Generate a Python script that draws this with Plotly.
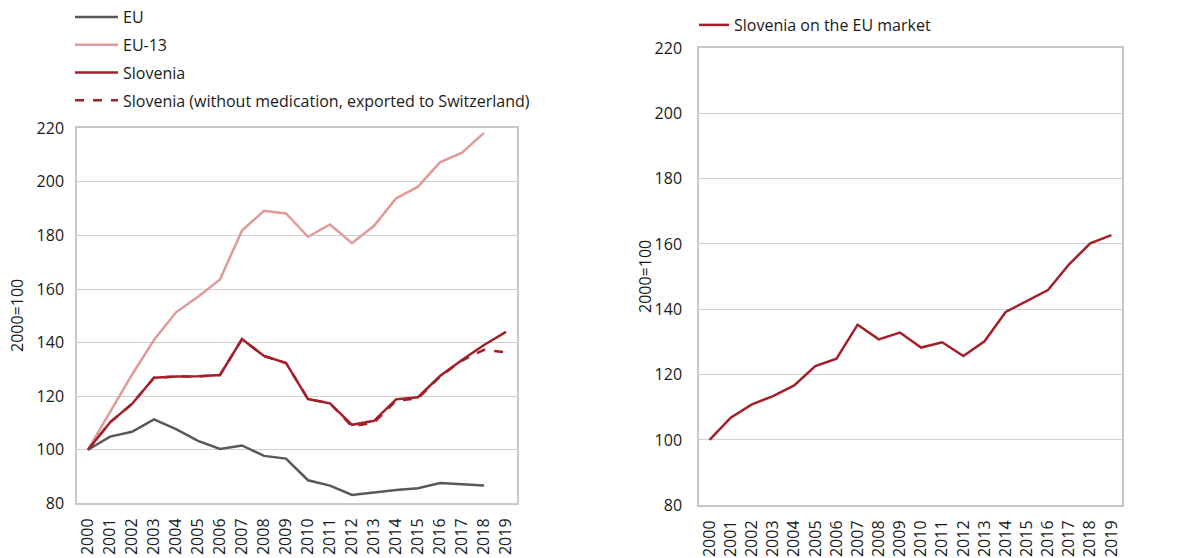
import plotly.graph_objects as go

years = [str(y) for y in range(2000, 2020)]

eu = [100, 104.9, 106.7, 111.3, 107.7, 103.3, 100.3, 101.6, 97.7, 96.7,
      88.6, 86.6, 83.1, 84.1, 85.0, 85.6, 87.6, 87.1, 86.6, None]
eu13 = [100, 114.1, 128.0, 141.0, 151.3, 157.1, 163.6, 181.8, 189.2, 188.2,
        179.5, 184.1, 177.1, 183.6, 193.8, 198.2, 207.3, 210.9, 218.3, None]
slovenia = [100, 110.2, 117.1, 126.9, 127.3, 127.4, 127.9, 141.3, 135.0, 132.4,
            118.9, 117.3, 109.3, 110.8, 118.8, 119.6, 127.5, 133.5, 139.1, 144.0]
slovenia_wo = [100, 110.2, 117.1, 126.9, 127.3, 127.4, 127.9, 141.3, 135.0, 132.4,
               118.9, 117.3, 108.7, 110.1, 118.3, 119.2, 127.3, 133.3, 137.3, 136.4]
slovenia_eu_market = [100, 106.8, 110.9, 113.4, 116.7, 122.6, 124.9, 135.3, 130.8, 132.9,
                      128.3, 129.9, 125.7, 130.2, 139.2, 142.5, 145.9, 153.8, 160.2, 162.7]

C_EU = "#595959"
C_EU13 = "#e09a9a"
C_SLO = "#a3202a"
FONT = "Open Sans"
FS = 16
TXT = "#1a1a1a"
W, H = 1179, 558


def px(x):
    return x / W


def py(y):
    return 1 - y / H


fig = go.Figure()
fig.add_trace(go.Scatter(x=years, y=eu, name="EU", mode="lines",
                         line=dict(color=C_EU, width=2.5), legendgroup="a", legendrank=1,
                         xaxis="x", yaxis="y", legend="legend"))
fig.add_trace(go.Scatter(x=years, y=eu13, name="EU-13", mode="lines",
                         line=dict(color=C_EU13, width=2.5), legendgroup="b", legendrank=2,
                         xaxis="x", yaxis="y", legend="legend"))
fig.add_trace(go.Scatter(x=years, y=slovenia_wo, name="Slovenia (without medication, exported to Switzerland)",
                         mode="lines", line=dict(color=C_SLO, width=2.5, dash="dash"), legendgroup="d",
                         legendrank=4, xaxis="x", yaxis="y", legend="legend"))
fig.add_trace(go.Scatter(x=years, y=slovenia, name="Slovenia", mode="lines",
                         line=dict(color=C_SLO, width=2.5), legendgroup="c", legendrank=3,
                         xaxis="x", yaxis="y", legend="legend"))
fig.add_trace(go.Scatter(x=years, y=slovenia_eu_market, name="Slovenia on the EU market", mode="lines",
                         line=dict(color=C_SLO, width=2.5),
                         xaxis="x2", yaxis="y2", legend="legend2"))

axis_common = dict(showline=True, linecolor="#c8c8c8", linewidth=1.5, mirror=True, automargin=False,
                   ticks="", tickfont=dict(family=FONT, size=FS, color=TXT))
xcommon = dict(axis_common, type="category", tickangle=-90, showgrid=False, range=[-0.5, 19.5],
               ticklabelstandoff=7)
ycommon = dict(axis_common, range=[80, 220], dtick=20, showgrid=True, gridcolor="#d0d0d0",
               gridwidth=1.3, zeroline=False)

fig.update_layout(
    width=W, height=H,
    margin=dict(l=0, r=0, t=0, b=0),
    paper_bgcolor="white", plot_bgcolor="white",
    font=dict(family=FONT, size=FS, color=TXT),
    xaxis=dict(xcommon, domain=[px(77), px(517)], anchor="y"),
    yaxis=dict(ycommon, domain=[py(503.3), py(128.3)], anchor="x", ticklabelstandoff=8),
    xaxis2=dict(xcommon, domain=[px(699), px(1122)], anchor="y2"),
    yaxis2=dict(ycommon, domain=[py(505.3), py(48)], anchor="x2", ticklabelstandoff=12),
    legend=dict(x=px(70), y=1.0, xanchor="left", yanchor="top",
                tracegroupgap=4, itemwidth=43,
                font=dict(family=FONT, size=FS, color=TXT), bgcolor="rgba(0,0,0,0)"),
    legend2=dict(x=px(694), y=py(8), xanchor="left", yanchor="top",
                 font=dict(family=FONT, size=FS, color=TXT), bgcolor="rgba(0,0,0,0)"),
    showlegend=True,
    annotations=[
        dict(text="2000=100", x=px(17), y=py(316), xref="paper", yref="paper",
             textangle=-90, showarrow=False, xanchor="center", yanchor="middle",
             font=dict(family=FONT, size=FS, color=TXT)),
        dict(text="2000=100", x=px(645), y=py(276), xref="paper", yref="paper",
             textangle=-90, showarrow=False, xanchor="center", yanchor="middle",
             font=dict(family=FONT, size=FS, color=TXT)),
    ],
)

fig.write_html("out.html", config={"displayModeBar": False},
               post_script="document.body.style.margin='0';")
